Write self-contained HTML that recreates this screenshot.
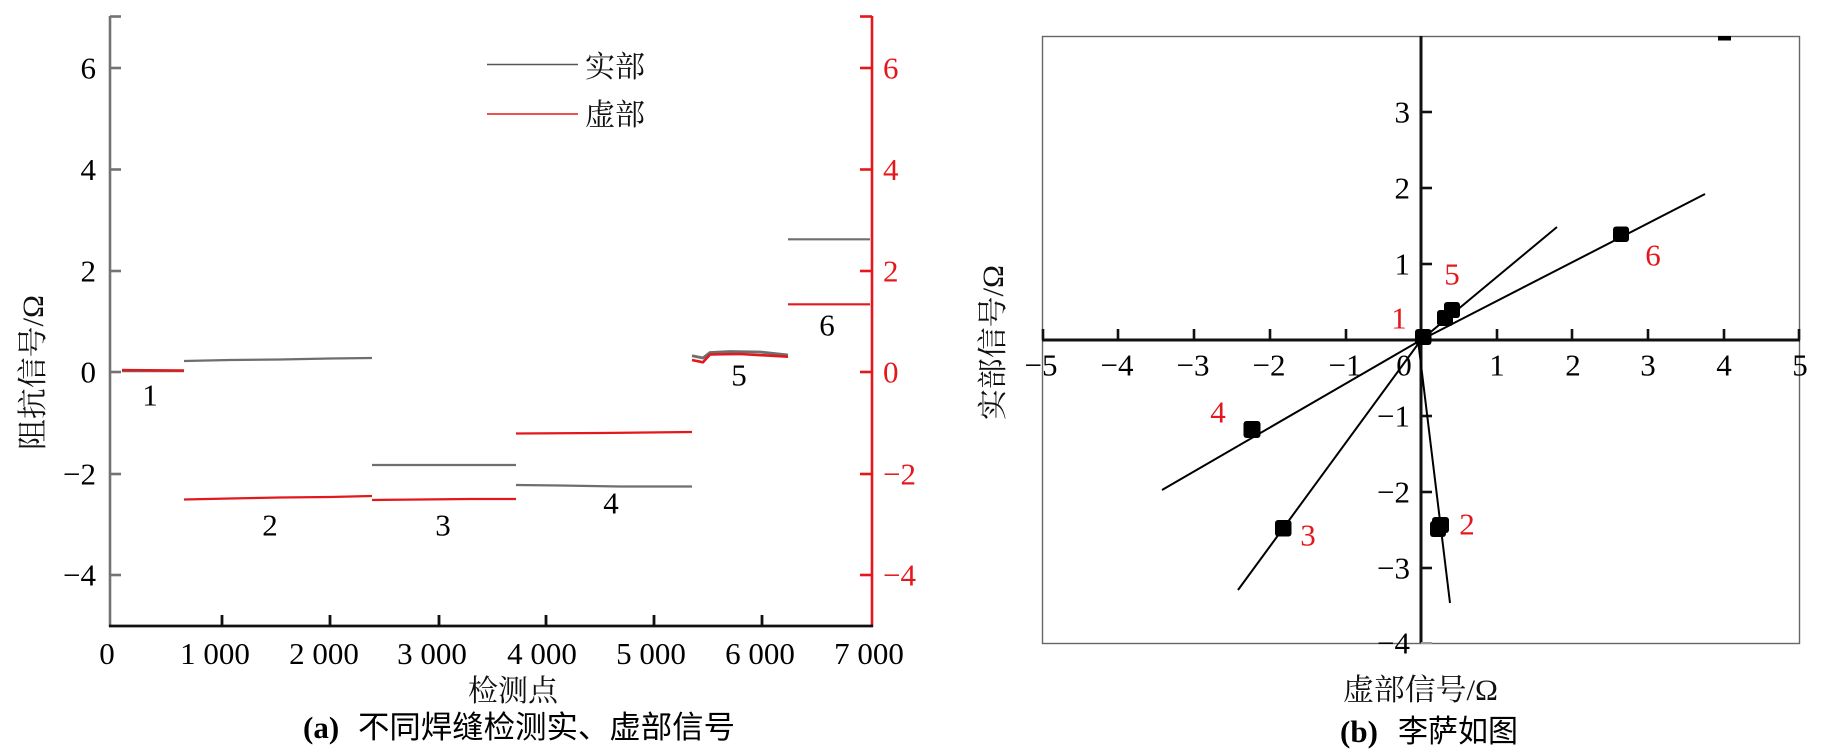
<!DOCTYPE html>
<html>
<head>
<meta charset="utf-8">
<style>
  html, body { margin: 0; padding: 0; background: #ffffff; }
  svg { display: block; }
  .num { font-family: "Liberation Serif", serif; font-size: 31px; fill: #000; }
  .red { fill: #e4181c; }
  .cjk { font-family: "Liberation Serif", "Noto Serif CJK SC", serif; font-size: 30px; fill: #111; }
  .cap { font-family: "Liberation Sans", "Noto Sans CJK SC", sans-serif; font-size: 31px; fill: #000; }
  .capb { font-family: "Liberation Serif", serif; font-size: 31px; font-weight: bold; fill: #000; }
</style>
</head>
<body>
<svg width="1828" height="756" viewBox="0 0 1828 756" xmlns="http://www.w3.org/2000/svg">
  <rect x="0" y="0" width="1828" height="756" fill="#ffffff"/>

  <!-- ================= LEFT CHART (a) ================= -->
  <g stroke="#737373" stroke-width="2.6" fill="none">
    <line x1="110" y1="16" x2="110" y2="627"/>
    <line x1="110" y1="16.5" x2="121" y2="16.5"/>
    <line x1="110" y1="68" x2="121" y2="68"/>
    <line x1="110" y1="169.5" x2="121" y2="169.5"/>
    <line x1="110" y1="271" x2="121" y2="271"/>
    <line x1="110" y1="372" x2="121" y2="372"/>
    <line x1="110" y1="474" x2="121" y2="474"/>
    <line x1="110" y1="575" x2="121" y2="575"/>
  </g>
  <g stroke="#e4181c" stroke-width="2.6" fill="none">
    <line x1="872" y1="16" x2="872" y2="627"/>
    <line x1="860" y1="16.5" x2="872" y2="16.5"/>
    <line x1="860" y1="68" x2="872" y2="68"/>
    <line x1="860" y1="169.5" x2="872" y2="169.5"/>
    <line x1="860" y1="271" x2="872" y2="271"/>
    <line x1="860" y1="372" x2="872" y2="372"/>
    <line x1="860" y1="474" x2="872" y2="474"/>
    <line x1="860" y1="575" x2="872" y2="575"/>
  </g>
  <g stroke="#111" stroke-width="2.8" fill="none">
    <line x1="109" y1="626" x2="873" y2="626"/>
    <line x1="222" y1="615" x2="222" y2="626"/>
    <line x1="330" y1="615" x2="330" y2="626"/>
    <line x1="439" y1="615" x2="439" y2="626"/>
    <line x1="546" y1="615" x2="546" y2="626"/>
    <line x1="654" y1="615" x2="654" y2="626"/>
    <line x1="762" y1="615" x2="762" y2="626"/>
  </g>

  <g class="num" text-anchor="end">
    <text x="96" y="78.5">6</text>
    <text x="96" y="180">4</text>
    <text x="96" y="281.5">2</text>
    <text x="96" y="382.5">0</text>
    <text x="96" y="484.5">−2</text>
    <text x="96" y="585.5">−4</text>
  </g>
  <g class="num red" text-anchor="start">
    <text x="883" y="78.5">6</text>
    <text x="883" y="180">4</text>
    <text x="883" y="281.5">2</text>
    <text x="883" y="382.5">0</text>
    <text x="883" y="484.5">−2</text>
    <text x="883" y="585.5">−4</text>
  </g>
  <g class="num" text-anchor="middle">
    <text x="107" y="664">0</text>
    <text x="215" y="664">1 000</text>
    <text x="324" y="664">2 000</text>
    <text x="432" y="664">3 000</text>
    <text x="542" y="664">4 000</text>
    <text x="651" y="664">5 000</text>
    <text x="760" y="664">6 000</text>
    <text x="869" y="664">7 000</text>
  </g>

  <g fill="none" stroke-linejoin="round">
    <line x1="122" y1="371" x2="184" y2="371" stroke="#6e6e6e" stroke-width="2.4"/>
    <line x1="122" y1="370" x2="184" y2="370.5" stroke="#e4181c" stroke-width="2.4"/>
    <polyline points="184,361 230,360 280,359.5 330,358.5 372,358" stroke="#6e6e6e" stroke-width="2.2"/>
    <polyline points="184,499.5 230,498.5 280,497.5 330,497 372,496" stroke="#e4181c" stroke-width="2.2"/>
    <line x1="372" y1="465" x2="516" y2="465" stroke="#6e6e6e" stroke-width="2.2"/>
    <polyline points="372,500 420,499.5 470,499 516,499" stroke="#e4181c" stroke-width="2.2"/>
    <polyline points="516,485 560,485.5 620,486.5 692,486.5" stroke="#6e6e6e" stroke-width="2.2"/>
    <polyline points="516,433.5 600,433 692,432" stroke="#e4181c" stroke-width="2.2"/>
    <polyline points="692,355.7 703,358 710,352.5 730,351.5 760,352 788,355" stroke="#6e6e6e" stroke-width="2.8"/>
    <polyline points="692,360 703,362.3 710,354.5 740,354 788,356.7" stroke="#e4181c" stroke-width="2.6"/>
    <line x1="788" y1="239.3" x2="870" y2="239.3" stroke="#6e6e6e" stroke-width="2.2"/>
    <line x1="788" y1="304.3" x2="870" y2="304.3" stroke="#e4181c" stroke-width="2.2"/>
  </g>

  <g class="num" text-anchor="middle">
    <text x="150" y="405.5">1</text>
    <text x="270" y="535.5">2</text>
    <text x="443" y="535.5">3</text>
    <text x="611" y="513.5">4</text>
    <text x="739" y="385.5">5</text>
    <text x="827" y="335.5">6</text>
  </g>

  <line x1="487" y1="64.5" x2="578" y2="64.5" stroke="#555" stroke-width="1.4"/>
  <line x1="487" y1="114" x2="578" y2="114" stroke="#e4181c" stroke-width="1.4"/>
  <text class="cjk" x="585" y="77" textLength="60" lengthAdjust="spacingAndGlyphs">实部</text>
  <text class="cjk" x="585" y="125" textLength="60" lengthAdjust="spacingAndGlyphs">虚部</text>

  <text class="cjk" x="468" y="701" textLength="90" lengthAdjust="spacingAndGlyphs">检测点</text>
  <text class="cjk" transform="translate(43,450) rotate(-90)" x="0" y="0" textLength="155" lengthAdjust="spacingAndGlyphs">阻抗信号/Ω</text>

  <text class="capb" x="303" y="738">(a)</text>
  <text class="cap" x="358" y="738" textLength="377" lengthAdjust="spacingAndGlyphs">不同焊缝检测实、虚部信号</text>

  <!-- ================= RIGHT CHART (b) ================= -->
  <rect x="1042.5" y="36.5" width="757" height="607" fill="none" stroke="#666" stroke-width="1.4"/>

  <g stroke="#111" stroke-width="3" fill="none">
    <line x1="1042" y1="340" x2="1800" y2="340"/>
    <line x1="1421" y1="36" x2="1421" y2="643"/>
  </g>
  <g stroke="#111" stroke-width="2.6" fill="none">
    <line x1="1043" y1="329" x2="1043" y2="340"/>
    <line x1="1118" y1="329" x2="1118" y2="340"/>
    <line x1="1194" y1="329" x2="1194" y2="340"/>
    <line x1="1270" y1="329" x2="1270" y2="340"/>
    <line x1="1346" y1="329" x2="1346" y2="340"/>
    <line x1="1497" y1="329" x2="1497" y2="340"/>
    <line x1="1572" y1="329" x2="1572" y2="340"/>
    <line x1="1648" y1="329" x2="1648" y2="340"/>
    <line x1="1724" y1="329" x2="1724" y2="340"/>
    <line x1="1799" y1="329" x2="1799" y2="340"/>
    <line x1="1421" y1="112" x2="1432" y2="112"/>
    <line x1="1421" y1="188" x2="1432" y2="188"/>
    <line x1="1421" y1="264" x2="1432" y2="264"/>
    <line x1="1421" y1="416" x2="1432" y2="416"/>
    <line x1="1421" y1="492" x2="1432" y2="492"/>
    <line x1="1421" y1="568" x2="1432" y2="568"/>
  </g>
  <line x1="1421" y1="643" x2="1432" y2="643" stroke="#999" stroke-width="2"/>

  <g class="num" text-anchor="middle">
    <text x="1041" y="375.5">−5</text>
    <text x="1117" y="375.5">−4</text>
    <text x="1193" y="375.5">−3</text>
    <text x="1269" y="375.5">−2</text>
    <text x="1345" y="375.5">−1</text>
    <text x="1404" y="375.5">0</text>
    <text x="1497" y="375.5">1</text>
    <text x="1573" y="375.5">2</text>
    <text x="1648" y="375.5">3</text>
    <text x="1724" y="375.5">4</text>
    <text x="1800" y="375.5">5</text>
  </g>
  <g class="num" text-anchor="end">
    <text x="1410" y="122.5">3</text>
    <text x="1410" y="198.5">2</text>
    <text x="1410" y="274.5">1</text>
    <text x="1410" y="426.5">−1</text>
    <text x="1410" y="502.5">−2</text>
    <text x="1410" y="578.5">−3</text>
    <text x="1410" y="653.5">−4</text>
  </g>

  <g stroke="#000" stroke-width="2" fill="none">
    <line x1="1421" y1="340" x2="1705" y2="194"/>
    <line x1="1421" y1="340" x2="1557" y2="227"/>
    <line x1="1162" y1="490" x2="1421" y2="340"/>
    <line x1="1238" y1="590" x2="1421" y2="340"/>
    <line x1="1418" y1="340" x2="1450" y2="603"/>
  </g>

  <g fill="#000">
    <rect x="1415" y="329" width="16.5" height="16" rx="3"/>
    <rect x="1437" y="310" width="16" height="16" rx="3"/>
    <rect x="1444" y="302" width="16" height="16" rx="3"/>
    <rect x="1613" y="226.5" width="16" height="15.5" rx="3"/>
    <rect x="1243.5" y="421" width="17" height="17" rx="3"/>
    <rect x="1275" y="520" width="16.5" height="16.5" rx="3"/>
    <rect x="1432" y="517" width="17" height="16" rx="3"/>
    <rect x="1430" y="521" width="16" height="16" rx="3"/>
    <rect x="1718" y="36" width="13" height="4.5"/>
  </g>

  <g class="num red" text-anchor="middle">
    <text x="1399" y="328.5">1</text>
    <text x="1452" y="284.5">5</text>
    <text x="1653" y="265.5">6</text>
    <text x="1218" y="422.5">4</text>
    <text x="1308" y="545.5">3</text>
    <text x="1467" y="534.5">2</text>
  </g>

  <text class="cjk" x="1343" y="700" textLength="155" lengthAdjust="spacingAndGlyphs">虚部信号/Ω</text>
  <text class="cjk" transform="translate(1003,420) rotate(-90)" x="0" y="0" textLength="155" lengthAdjust="spacingAndGlyphs">实部信号/Ω</text>

  <text class="capb" x="1340" y="742">(b)</text>
  <text class="cap" x="1398" y="742" textLength="120" lengthAdjust="spacingAndGlyphs">李萨如图</text>
</svg>
</body>
</html>
